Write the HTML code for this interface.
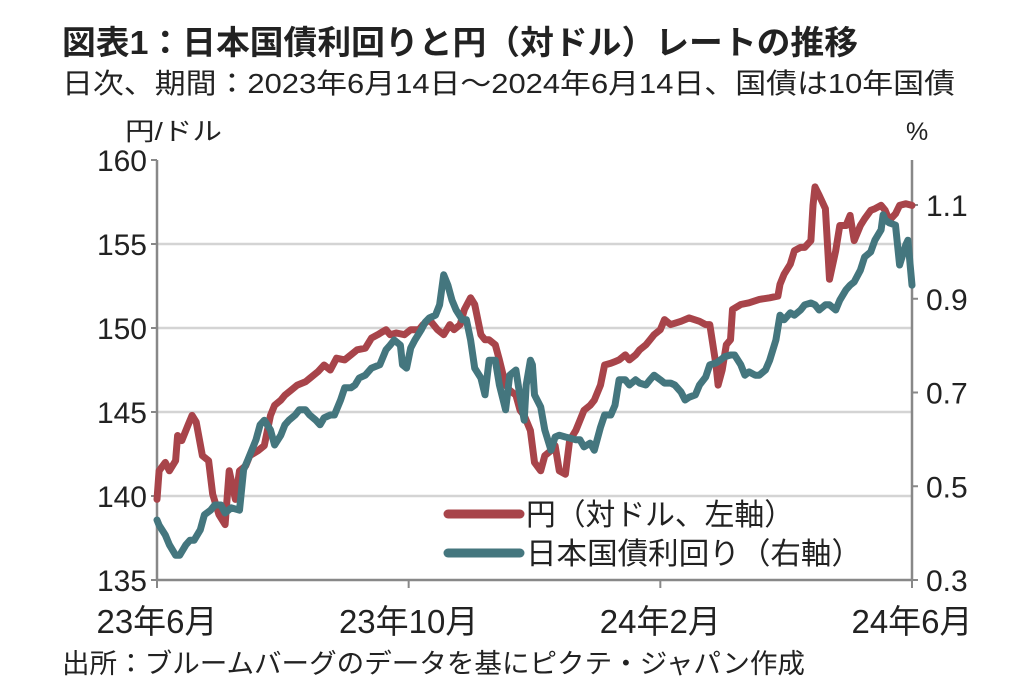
<!DOCTYPE html>
<html><head><meta charset="utf-8"><style>
body{margin:0;background:#fff;}
svg text{font-family:"Liberation Sans","Noto Sans CJK JP",sans-serif;fill:#222;}
</style></head><body>
<svg id="c" width="1014" height="687" viewBox="0 0 1014 687" xmlns="http://www.w3.org/2000/svg">
<text x="62" y="54" font-size="33" font-weight="bold" textLength="796" lengthAdjust="spacingAndGlyphs">図表1：日本国債利回りと円（対ドル）レートの推移</text>
<text x="62" y="93" font-size="28" fill="#333" textLength="893" lengthAdjust="spacingAndGlyphs">日次、期間：2023年6月14日～2024年6月14日、国債は10年国債</text>
<text x="125" y="140" font-size="25" textLength="97" lengthAdjust="spacingAndGlyphs">円/ドル</text>
<text x="906" y="140" font-size="25">%</text>
<g id="grid"></g><g id="axes"></g><g id="series"></g>
<g>
<line x1="448" y1="514" x2="520" y2="514" stroke="#a8444a" stroke-width="9" stroke-linecap="round"/>
<text x="526" y="525" font-size="30" textLength="268" lengthAdjust="spacingAndGlyphs">円（対ドル、左軸）</text>
<line x1="448" y1="553" x2="520" y2="553" stroke="#44767e" stroke-width="9" stroke-linecap="round"/>
<text x="526" y="564" font-size="30" textLength="336" lengthAdjust="spacingAndGlyphs">日本国債利回り（右軸）</text>
</g>
<text x="62" y="673" font-size="27" fill="#333" textLength="743" lengthAdjust="spacingAndGlyphs">出所：ブルームバーグのデータを基にピクテ・ジャパン作成</text>
</svg>
<script>
const yenDays=[0,1,4,6,9,10,12,15,17,19,22,25,27,30,33,35,38,40,43,45,49,52,55,57,60,62,65,68,72,74,78,81,84,87,91,94,97,101,104,107,111,113,116,120,123,127,129,132,136,139,142,144,147,149,152,154,157,159,161,164,166,169,171,174,176,178,181,183,186,188,191,193,195,198,200,203,205,207,210,212,215,217,220,222,224,227,229,232,234,237,239,241,244,246,249,254,258,263,266,268,271,272,274,276,278,279,283,287,292,297,301,302,304,307,309,312,314,317,318,319,321,324,326,329,331,334,336,338,341,343,346,348,351,353,355,358,360,363,366];
const yenValues=[139.8,141.5,142.0,141.5,142.1,143.6,143.3,144.2,144.8,144.4,142.4,142.1,140.1,138.9,138.3,141.5,139.8,141.5,141.8,142.4,142.7,143.0,144.8,145.4,145.7,146.0,146.3,146.6,146.8,147.0,147.4,147.8,147.5,148.2,148.1,148.4,148.7,148.8,149.4,149.6,149.9,149.6,149.7,149.6,149.9,149.9,150.2,150.5,149.9,149.6,150.2,149.9,150.2,151.1,151.8,151.4,149.6,149.3,149.3,149.0,148.1,146.6,146.3,146.0,145.1,144.8,143.9,142.0,141.5,142.4,142.7,143.0,141.5,141.3,143.3,143.9,144.5,145.1,145.4,145.7,146.6,147.8,147.9,148.0,148.1,148.4,148.1,148.4,148.7,149.0,149.3,149.6,149.9,150.5,150.2,150.4,150.6,150.4,150.2,150.2,147.8,146.6,147.5,149.0,149.3,151.1,151.4,151.5,151.7,151.8,151.9,152.6,153.2,153.8,154.6,154.8,154.8,155.2,157.3,158.4,157.9,157.1,152.9,154.6,156.1,156.1,156.7,155.2,156.1,156.5,157.0,157.1,157.3,157.0,156.4,156.8,157.3,157.4,157.3];
const jgbDays=[0,1,4,6,9,11,14,16,18,21,23,26,28,31,33,36,40,42,44,48,50,52,55,57,60,62,64,67,69,72,74,77,79,81,84,86,89,91,94,96,98,101,104,108,111,113,115,118,119,121,123,125,128,130,132,135,137,139,141,143,145,148,150,152,154,157,159,161,164,166,169,171,174,176,178,179,181,182,183,186,188,191,193,195,198,200,203,205,207,210,212,215,217,220,222,224,227,229,232,234,237,239,241,244,246,249,251,254,256,258,261,263,266,268,271,273,275,278,280,283,285,287,290,292,295,297,300,302,304,307,309,312,314,317,319,321,324,326,329,331,334,336,338,341,343,346,348,351,352,353,355,358,360,363,364,366];
const jgbValues=[.428,.417,.396,.375,.353,.353,.375,.385,.385,.407,.439,.449,.460,.460,.443,.454,.449,.535,.556,.599,.631,.641,.620,.588,.609,.631,.641,.652,.663,.663,.652,.641,.631,.646,.652,.652,.684,.710,.710,.716,.731,.737,.752,.759,.791,.801,.812,.801,.759,.752,.795,.812,.833,.850,.859,.865,.887,.951,.929,.897,.876,.855,.855,.812,.752,.731,.695,.769,.769,.716,.663,.737,.748,.690,.641,.716,.769,.759,.695,.669,.620,.577,.605,.609,.605,.603,.599,.599,.584,.592,.577,.626,.652,.652,.673,.727,.727,.716,.727,.720,.716,.727,.737,.727,.720,.720,.716,.701,.684,.690,.695,.716,.733,.759,.763,.769,.776,.780,.780,.759,.737,.744,.737,.737,.748,.769,.812,.865,.855,.870,.865,.876,.887,.891,.887,.876,.887,.887,.876,.897,.919,.929,.936,.961,.989,1.000,1.025,1.047,1.079,1.068,1.062,1.057,.972,1.015,1.025,.929];
const leftTicks=[135,140,145,150,155,160];
const rightTicks=[0.3,0.5,0.7,0.9,1.1];
const rightTickLabels=["0.3","0.5","0.7","0.9","1.1"];
const xTickDays=[0,122,244,366];
const xTickLabels=["23年6月","23年10月","24年2月","24年6月"];
const X0=157,X1=912,Y0=580,Y1=160,DMAX=366;
const xs=d=>X0+(d/DMAX)*(X1-X0);
const yL=v=>Y0-(v-135)/(160-135)*(Y0-Y1);
const yR=v=>Y0-(v-0.3)/(1.196-0.3)*(Y0-Y1);
const NS="http://www.w3.org/2000/svg";
function mk(tag,attrs,parent){const e=document.createElementNS(NS,tag);for(const k in attrs)e.setAttribute(k,attrs[k]);parent.appendChild(e);return e;}
const grid=document.getElementById('grid'),axes=document.getElementById('axes'),ser=document.getElementById('series');
leftTicks.forEach(t=>{
  const y=yL(t);
  if(t>135&&t<160){const g=mk('line',{x1:X0,x2:X1,y1:y,y2:y,stroke:'#d4d4d4','stroke-width':2.5},grid);
  
  }
  const tk=mk('line',{x1:X0-6,x2:X0,y1:y,y2:y,stroke:'#888','stroke-width':2},axes);
  
  
  const tx=mk('text',{x:X0-10,y:y+11,'font-size':30,'text-anchor':'end'},axes);
  tx.textContent=t;
  
  
});
rightTicks.forEach((t,i)=>{
  const y=yR(t);
  const tk=mk('line',{x1:X1,x2:X1+6,y1:y,y2:y,stroke:'#888','stroke-width':2},axes);
  
  
  const tx=mk('text',{x:X1+14,y:y+11,'font-size':30},axes);
  tx.textContent=rightTickLabels[i];
  
  
});
xTickDays.forEach((d,i)=>{
  const x=xs(d);
  const tk=mk('line',{x1:x,x2:x,y1:Y0,y2:Y0+8,stroke:'#888','stroke-width':2},axes);
  
  
  const tx=mk('text',{x:x,y:Y0+53,'font-size':33,'text-anchor':'middle'},axes);
  tx.textContent=xTickLabels[i];
  
  
});
const la=mk('line',{x1:X0,x2:X0,y1:Y1,y2:Y0,stroke:'#888','stroke-width':2.5},axes);


const ra=mk('line',{x1:X1,x2:X1,y1:Y1,y2:Y0,stroke:'#888','stroke-width':2.5},axes);


const ba=mk('line',{x1:X0,x2:X1,y1:Y0,y2:Y0,stroke:'#888','stroke-width':2.5},axes);


const yenPts=yenDays.map((d,i)=>xs(d).toFixed(1)+','+yL(yenValues[i]).toFixed(1)).join(' ');
const p1=mk('polyline',{points:yenPts,fill:'none',stroke:'#a8444a','stroke-width':7,'stroke-linejoin':'round','stroke-linecap':'round'},ser);


const jgbPts=jgbDays.map((d,i)=>xs(d).toFixed(1)+','+yR(jgbValues[i]).toFixed(1)).join(' ');
const p2=mk('polyline',{points:jgbPts,fill:'none',stroke:'#44767e','stroke-width':7,'stroke-linejoin':'round','stroke-linecap':'round'},ser);


</script>
</body></html>
